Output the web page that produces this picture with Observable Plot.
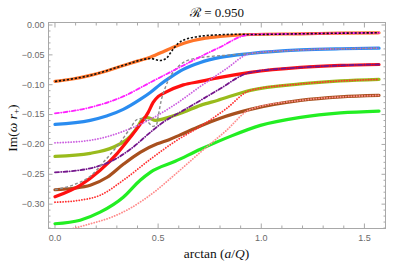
<!DOCTYPE html>
<html><head><meta charset="utf-8">
<script src="https://cdn.jsdelivr.net/npm/d3@7"></script>
<script src="https://cdn.jsdelivr.net/npm/@observablehq/plot@0.6"></script>
<style>body{margin:0;background:#fff}</style>
</head><body><div id="chart"></div>
<script>
const title = "ℛ = 0.950";
const xTicks = [0, 0.5, 1.0, 1.5];
const xMinor = [0.1,0.2,0.3,0.4,0.6,0.7,0.8,0.9,1.1,1.2,1.3,1.4];
const yTicks = [0, -0.05, -0.10, -0.15, -0.20, -0.25, -0.30];
const yMinor = [-0.01,-0.02,-0.03,-0.04,-0.06,-0.07,-0.08,-0.09,-0.11,-0.12,-0.13,-0.14,-0.16,-0.17,-0.18,-0.19,-0.21,-0.22,-0.23,-0.24,-0.26,-0.27,-0.28,-0.29,-0.31,-0.32,-0.33,-0.34];

// solid curves [arctan(a/Q), Im(ω r+)]
const orange = [[0,-0.0945],[0.085,-0.0905],[0.171,-0.0844],[0.25,-0.0770],[0.331,-0.0677],[0.40,-0.0605],[0.462,-0.0538],[0.52,-0.0455],[0.573,-0.0371],[0.625,-0.0305],[0.671,-0.0259],[0.73,-0.0220],[0.801,-0.0192],[0.947,-0.0159],[1.19,-0.0147],[1.384,-0.0137],[1.5708,-0.0130]];
const blue = [[0,-0.1664],[0.171,-0.1597],[0.25,-0.1525],[0.331,-0.1413],[0.413,-0.1246],[0.462,-0.1129],[0.510,-0.0995],[0.559,-0.0878],[0.622,-0.0744],[0.705,-0.0627],[0.801,-0.0543],[0.947,-0.0477],[1.19,-0.0418],[1.384,-0.0398],[1.5708,-0.0388]];
const red = [[0,-0.2876],[0.122,-0.2684],[0.219,-0.2433],[0.302,-0.2149],[0.365,-0.1881],[0.413,-0.1664],[0.452,-0.1463],[0.476,-0.1296],[0.501,-0.1196],[0.535,-0.1129],[0.622,-0.1003],[0.705,-0.0945],[0.801,-0.0878],[0.947,-0.0794],[1.19,-0.0711],[1.384,-0.0677],[1.5708,-0.0661]];
const yellowGreen = [[0,-0.2199],[0.171,-0.2149],[0.282,-0.2048],[0.365,-0.1865],[0.399,-0.1714],[0.423,-0.1580],[0.443,-0.1547],[0.462,-0.1564],[0.486,-0.1597],[0.525,-0.1572],[0.622,-0.1463],[0.705,-0.1346],[0.787,-0.1263],[0.947,-0.1095],[1.19,-0.0987],[1.384,-0.0937],[1.5708,-0.0911]];
const brown = [[0,-0.2759],[0.088,-0.2734],[0.171,-0.2684],[0.253,-0.2550],[0.331,-0.2333],[0.413,-0.2132],[0.496,-0.1990],[0.55,-0.1925],[0.607,-0.1840],[0.705,-0.1690],[0.801,-0.1560],[0.947,-0.1413],[1.19,-0.1263],[1.384,-0.1204],[1.5708,-0.1179]];
const green = [[0,-0.3328],[0.122,-0.3269],[0.219,-0.3135],[0.331,-0.2885],[0.413,-0.2600],[0.462,-0.2467],[0.583,-0.2283],[0.705,-0.2082],[0.850,-0.1865],[0.996,-0.1681],[1.19,-0.1547],[1.384,-0.1472],[1.5708,-0.1441]];

// approximation curves (join a solid curve near x = 0.95)
const blackDash = [[0,-0.0945],[0.171,-0.0844],[0.331,-0.0677],[0.413,-0.0590],[0.462,-0.0560],[0.510,-0.0594],[0.539,-0.0560],[0.568,-0.0426],[0.597,-0.0309],[0.631,-0.0242],[0.680,-0.0201],[0.777,-0.0167],[0.899,-0.0155]];
const magenta = [[0,-0.148],[0.171,-0.138],[0.331,-0.1196],[0.462,-0.0962],[0.622,-0.0677],[0.787,-0.0393],[0.947,-0.0159]];
const grayDash = [[0,-0.2759],[0.097,-0.2667],[0.171,-0.2533],[0.243,-0.2266],[0.316,-0.1965],[0.365,-0.1731],[0.399,-0.1580],[0.428,-0.1564],[0.452,-0.1630],[0.476,-0.1697],[0.491,-0.1681],[0.501,-0.1514],[0.515,-0.1263],[0.535,-0.1045],[0.559,-0.0861],[0.593,-0.0711],[0.631,-0.0610],[0.680,-0.0560],[0.753,-0.0527],[0.850,-0.0502],[0.947,-0.0477]];
const violet = [[0,-0.1973],[0.171,-0.1931],[0.331,-0.1781],[0.462,-0.1580],[0.583,-0.1329],[0.705,-0.1028],[0.826,-0.0744],[0.947,-0.0477]];
const purple = [[0,-0.2467],[0.171,-0.2400],[0.282,-0.2266],[0.365,-0.2082],[0.462,-0.1798],[0.510,-0.1664],[0.622,-0.1430],[0.705,-0.1263],[0.787,-0.1095],[0.947,-0.0794]];
const salmon = [[0,-0.2968],[0.122,-0.2934],[0.219,-0.2851],[0.331,-0.2600],[0.462,-0.2249],[0.583,-0.1948],[0.705,-0.1697],[0.826,-0.1413],[0.947,-0.1095]];
const lightRed = [[0,-0.3485],[0.085,-0.3410],[0.171,-0.3330],[0.277,-0.3215],[0.365,-0.3069],[0.486,-0.2784],[0.583,-0.2500],[0.705,-0.2132],[0.826,-0.1781],[0.947,-0.1413]];

const join = (head, solid) => head.concat(solid.filter(p => p[0] > head[head.length - 1][0]));

const serif = "'Liberation Serif', 'DejaVu Serif', serif";
const lineOpts = (stroke, strokeWidth, extra = {}) => ({x: d => d[0], y: d => d[1], stroke, strokeWidth, curve: "monotone-x", clip: true, strokeLinecap: "round", ...extra});
const dot = "0.1,2.6";
const dotDash = "4,2.2,0.1,2.2";

const tickStroke = "#a8a8a8";
const chart = Plot.plot({
  width: 407, height: 263,
  marginLeft: 48, marginRight: 22, marginTop: 22, marginBottom: 35,
  x: {domain: [-0.0314, 1.6022]},
  y: {domain: [-0.3408, 0.0042]},
  style: {fontFamily: "'Liberation Sans', sans-serif", fontSize: "9px", color: "#666", background: "white"},
  marks: [
    Plot.frame({stroke: tickStroke}),
    Plot.axisX(xTicks, {anchor: "bottom", tickSize: 0, tickPadding: 6, tickFormat: d3.format(".1f"), label: null, fill: "#6a6a6a"}),
    Plot.axisX(xTicks, {anchor: "bottom", tickSize: -4.5, stroke: tickStroke, fill: "none", label: null}),
    Plot.axisX(xMinor, {anchor: "bottom", tickSize: -2.5, stroke: tickStroke, fill: "none", label: null}),
    Plot.axisX(xTicks, {anchor: "top", tickSize: -4.5, stroke: tickStroke, fill: "none", label: null}),
    Plot.axisX(xMinor, {anchor: "top", tickSize: -2.5, stroke: tickStroke, fill: "none", label: null}),
    Plot.axisY(yTicks, {anchor: "left", tickSize: 0, tickPadding: 4, tickFormat: d3.format(".2f"), label: null, fill: "#6a6a6a"}),
    Plot.axisY(yTicks, {anchor: "left", tickSize: -4.5, stroke: tickStroke, fill: "none", label: null}),
    Plot.axisY(yMinor, {anchor: "left", tickSize: -2.5, stroke: tickStroke, fill: "none", label: null}),
    Plot.axisY(yTicks, {anchor: "right", tickSize: -4.5, stroke: tickStroke, fill: "none", label: null}),
    Plot.axisY(yMinor, {anchor: "right", tickSize: -2.5, stroke: tickStroke, fill: "none", label: null}),

    Plot.line(green, lineOpts("#22ee22", 3.2)),
    Plot.line(brown, lineOpts("#a8501e", 3.2)),
    Plot.line(yellowGreen, lineOpts("#99bb1c", 3.2)),
    Plot.line(red, lineOpts("#ff1010", 3.2)),
    Plot.line(blue, lineOpts("#2a8cf0", 3.2)),
    Plot.line(orange, lineOpts("#ff7428", 3.2)),

    Plot.line(join(lightRed, brown), lineOpts("#ff8c8c", 1.8, {strokeDasharray: dot})),
    Plot.line(join(salmon, yellowGreen), lineOpts("#ff3030", 1.8, {strokeDasharray: dot})),
    Plot.line(join(purple, red), lineOpts("#74168c", 1.8, {strokeDasharray: dotDash})),
    Plot.line(join(violet, blue), lineOpts("#cc5fe0", 1.8, {strokeDasharray: dot})),
    Plot.line(join(grayDash, blue), lineOpts("#8c8c8c", 1.4, {strokeDasharray: "3,2.2", strokeLinecap: "butt"})),
    Plot.line(join(magenta, orange), lineOpts("#ff22ff", 1.8, {strokeDasharray: dotDash})),
    Plot.line(join(blackDash, orange), lineOpts("#111111", 1.6, {strokeDasharray: "2.2,1.8", strokeLinecap: "butt"})),

    Plot.text([title], {frameAnchor: "top", dy: -15, text: d => d, fontFamily: serif, fontSize: 13, fill: "#111"})
  ]
});
document.getElementById("chart").appendChild(chart);

const svg = d3.select(chart);
const plotMid = 22 + (263 - 22 - 35) / 2;
const yl = svg.append("text")
  .attr("transform", `translate(14,${plotMid + 3}) rotate(-90)`)
  .attr("text-anchor", "middle").attr("dominant-baseline", "middle")
  .attr("font-family", serif).attr("font-size", 13.5).attr("fill", "#111");
yl.append("tspan").text("Im(");
yl.append("tspan").attr("font-style", "italic").text("ω r");
yl.append("tspan").attr("font-size", 9).attr("dy", 3).text("+");
yl.append("tspan").attr("dy", -3).text(")");

const xMid = 48 + (407 - 48 - 22) / 2;
const xl = svg.append("text")
  .attr("x", xMid).attr("y", 258)
  .attr("text-anchor", "middle")
  .attr("font-family", serif).attr("font-size", 13.5).attr("fill", "#111");
xl.append("tspan").text("arctan (");
xl.append("tspan").attr("font-style", "italic").text("a");
xl.append("tspan").text("/");
xl.append("tspan").attr("font-style", "italic").text("Q");
xl.append("tspan").text(")");
</script>
</body></html>
